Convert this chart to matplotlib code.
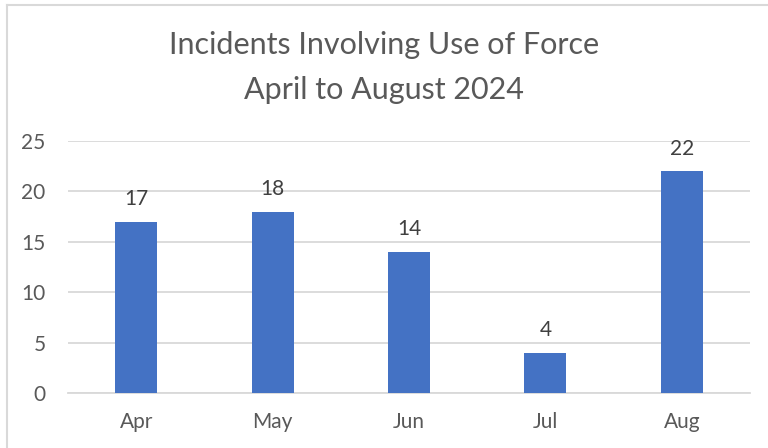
import matplotlib.pyplot as plt
from matplotlib.lines import Line2D

months = ["Apr", "May", "Jun", "Jul", "Aug"]
incidents = [17, 18, 14, 4, 22]
y_ticks = [0, 5, 10, 15, 20, 25]

plt.rcParams['font.family'] = ['Lato', 'DejaVu Sans']

fig = plt.figure(figsize=(7.68, 4.48), dpi=100)
ax = fig.add_axes([0.0885, 0.1228, 0.888, 0.5625])

x = range(len(months))
ax.bar(x, incidents, width=0.308, color='#4472C4', zorder=3)

# value labels above the bars
for xi, v in zip(x, incidents):
    ax.annotate(str(v), (xi, v), xytext=(0, 12), textcoords='offset points',
                ha='center', va='baseline', fontsize=15, color='#404040')

ax.set_ylim(0, 25)
ax.set_xlim(-0.5, len(months) - 0.5)
ax.set_yticks(y_ticks)
ax.set_xticks(list(x))
ax.set_xticklabels(months)
ax.tick_params(axis='both', length=0, labelsize=15, labelcolor='#595959')
ax.tick_params(axis='y', pad=16)
ax.tick_params(axis='x', pad=14)
ax.grid(axis='y', color='#D9D9D9', linewidth=1.3, zorder=0)
for s in ['top', 'right', 'left']:
    ax.spines[s].set_visible(False)
ax.spines['bottom'].set_color('#D9D9D9')
ax.spines['bottom'].set_linewidth(1.3)

fig.text(0.5, 0.900, "Incidents Involving Use of Force", ha='center', va='center',
         fontsize=22, color='#595959')
fig.text(0.5, 0.800, "April to August 2024", ha='center', va='center',
         fontsize=22, color='#595959')

# chart area border (only top and left visible in the crop)
fig.lines.append(Line2D([7 / 768, 7 / 768], [0, 1 - 5 / 448], transform=fig.transFigure,
                        color='#D9D9D9', linewidth=1.5))
fig.lines.append(Line2D([7 / 768, 1], [1 - 5 / 448, 1 - 5 / 448], transform=fig.transFigure,
                        color='#D9D9D9', linewidth=1.5))

fig.savefig("out.png", dpi=100)
